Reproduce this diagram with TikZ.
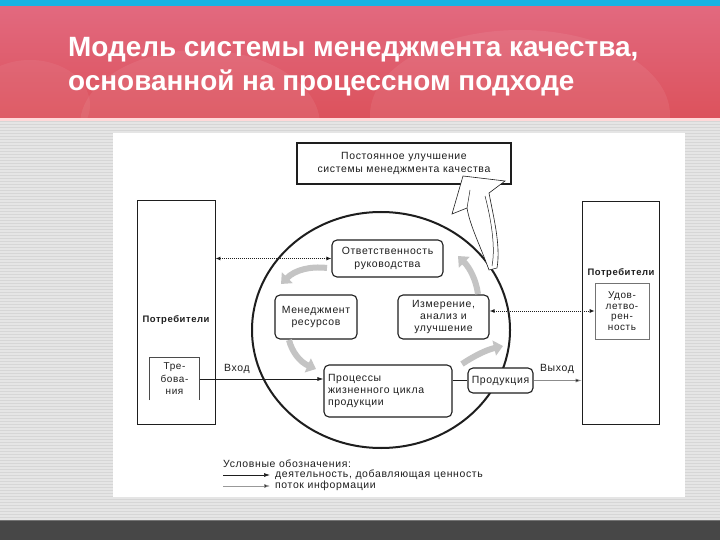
\documentclass[tikz,border=0pt]{standalone}
\usepackage{fontspec}
\setmainfont{Liberation Sans}
\newfontfamily\dg[LetterSpace=6]{Liberation Sans}
\usetikzlibrary{arrows.meta}
\definecolor{cyanc}{HTML}{19B3E3}
\definecolor{redtop}{HTML}{E2697F}
\definecolor{redbot}{HTML}{DC525C}
\definecolor{bggray}{HTML}{E5E5E5}
\definecolor{stripe}{HTML}{D6D6D6}
\definecolor{darkbar}{HTML}{474747}
\definecolor{ink}{HTML}{1E1E1E}
\definecolor{swoosh}{HTML}{C4C4C4}
\newcommand\dfs{\dg\fontsize{10.5}{12.5}\selectfont}
\begin{document}
\begin{tikzpicture}[x=1bp,y=-1bp,
  rbox/.style={draw=ink, line width=1.1bp, rounded corners=5bp, fill=white, inner sep=0pt, align=center, font=\dfs, text=ink},
  sbox/.style={draw=ink, line width=0.8bp, fill=white, inner sep=0pt, align=center, font=\dfs, text=ink},
  lbl/.style={inner sep=0pt, font=\dfs, text=ink},
  titletext/.style={anchor=base west, inner sep=0pt, text=white, font=\fontsize{28}{32}\selectfont\bfseries},
  dotarr/.style={draw=ink, line width=1bp, densely dotted, {Latex[length=5bp,width=4bp]}-{Latex[length=5bp,width=4bp]}},
  actarr/.style={draw=ink, line width=0.7bp, -{Latex[length=6bp,width=4bp]}},
  outarr/.style={draw=black!45, line width=0.6bp, -{Latex[length=6bp,width=4bp,fill=ink]}},
  infoarr/.style={draw=black!40, line width=0.5bp, -{Latex[length=6bp,width=4bp,fill=ink]}},
  garr/.style={draw=swoosh, line width=6bp, -{Triangle[length=9bp,width=15bp]}},
]
\useasboundingbox (0,0) rectangle (720,540);
% ---------- slide background ----------
\fill[bggray] (0,0) rectangle (720,540);
\foreach \yy in {121,124,...,519} \draw[stripe, line width=0.6bp] (0,\yy) -- (720,\yy);
\shade[top color=redtop, bottom color=redbot] (0,6) rectangle (720,118);
\begin{scope}
  \clip (0,6) rectangle (720,118);
  \fill[white, opacity=0.07] (200,125) ellipse [x radius=120, y radius=75];
  \fill[white, opacity=0.07] (520,115) ellipse [x radius=150, y radius=85];
  \fill[white, opacity=0.06] (30,105) ellipse [x radius=60, y radius=45];
\end{scope}
\fill[cyanc] (0,0) rectangle (720,6);
\fill[white!85!red] (0,118) rectangle (720,121);
\fill[white] (113,133) rectangle (685,497);
\fill[darkbar] (0,520) rectangle (720,540);
\draw[black!55, line width=1bp] (0,520.5) -- (720,520.5);
% ---------- title ----------
\node[titletext] (t1) at (68,57) {Модель системы менеджмента качества,};
\node[titletext] (t2) at (68,91) {основанной на процессном подходе};
% ---------- circle ----------
\draw[ink, line width=2bp] (381,330) ellipse [x radius=129, y radius=118];
% ---------- side boxes ----------
\node[sbox, minimum width=78bp, minimum height=224bp] (L) at (176,312) {};
\node[font=\dg\fontsize{9.5}{11}\selectfont\bfseries, text=ink, inner sep=0pt] (Llab) at (176,320) {Потребители};
\node[lbl, align=center, font=\dg\fontsize{10}{12.5}\selectfont, text width=50bp, minimum height=42bp] (req) at (174.5,379) {Тре-\\бова-\\ния};
\draw[ink!80, line width=0.7bp] (req.south west) -- (req.north west) -- (req.north east) -- (req.south east);
\node[sbox, minimum width=77bp, minimum height=223bp] (R) at (620.5,312.5) {};
\node[font=\dg\fontsize{9.5}{11}\selectfont\bfseries, text=ink, inner sep=0pt] (Rlab) at (621,273) {Потребители};
\node[sbox, draw=black!55, line width=0.6bp, minimum width=54bp, minimum height=56bp, font=\dg\fontsize{10}{10.8}\selectfont] (sat) at (622,311) {Удов-\\летво-\\рен-\\ность};
% ---------- inner boxes ----------
\node[rbox, minimum width=111bp, minimum height=37bp, font=\dg\fontsize{10.5}{13}\selectfont] (resp) at (387.5,258.5) {Ответственность\\руководства};
\node[rbox, minimum width=82bp, minimum height=44bp] (res) at (316,317) {Менеджмент\\ресурсов};
\node[rbox, minimum width=91bp, minimum height=44bp] (meas) at (443.5,317) {Измерение,\\анализ и\\улучшение};
\node[rbox, text width=120bp, inner xsep=4bp, minimum height=52bp, align=left] (proc) at (388,391) {Процессы\\жизненного цикла\\продукции};
\node[rbox, minimum width=65bp, minimum height=25bp] (prod) at (500.5,380.5) {Продукция};
% ---------- grey cycle swooshes ----------
\draw[garr] (327,268) .. controls (310,266) and (295,270) .. (281,284);
\draw[garr] (289,340) .. controls (292,352) and (300,362) .. (316,369);
\draw[garr] (462,364) .. controls (474,356) and (486,350) .. (503,346);
\draw[garr] (478,294) .. controls (476,280) and (470,268) .. (458,256);
% ---------- top improvement box ----------
\node[sbox, line width=1.2bp, minimum width=214bp, minimum height=41bp, font=\dg\fontsize{10.5}{13}\selectfont] (imp) at (404,163.5) {Постоянное улучшение\\системы менеджмента качества};
% big hollow arrow from circle to improvement box
\filldraw[fill=white, draw=ink, line width=0.6bp]
  (489,270) .. controls (480,245) and (470,226) .. (467,208)
  -- (452,214) -- (463,176) -- (505,181) -- (489,193)
  .. controls (493,215) and (501,245) .. (497,268) -- cycle;
\draw[ink, line width=0.5bp] (492,266) .. controls (496,245) and (490,215) .. (485,196);
\draw[ink, line width=0.5bp] (467,208) -- (470,190);
% ---------- connectors ----------
\draw[dotarr] (resp.west -| L.east) -- (resp.west);
\draw[dotarr] (meas.east |- sat.west) -- (sat.west);
\draw[actarr] (req.east) -- (req.east -| proc.west);
\node[lbl, anchor=south] (vhod) at (237,374) {Вход};
\draw[ink, line width=0.7bp] (proc.east |- prod.west) -- (prod.west);
\draw[outarr] (prod.east) -- (prod.east -| R.west);
\node[lbl, anchor=south] (vyhod) at (557,374) {Выход};
% ---------- legend ----------
\node[lbl, anchor=west] (legh) at (223,464) {Условные обозначения:};
\coordinate (la1) at (223,475); \coordinate (lb1) at (270,475);
\coordinate (la2) at (223,486); \coordinate (lb2) at (270,486);
\draw[actarr] (la1) -- (lb1);
\draw[infoarr] (la2) -- (lb2);
\node[lbl, anchor=west] (leg1) at (275,475) {деятельность, добавляющая ценность};
\node[lbl, anchor=west] (leg2) at (275,486) {поток информации};
\end{tikzpicture}
\end{document}
